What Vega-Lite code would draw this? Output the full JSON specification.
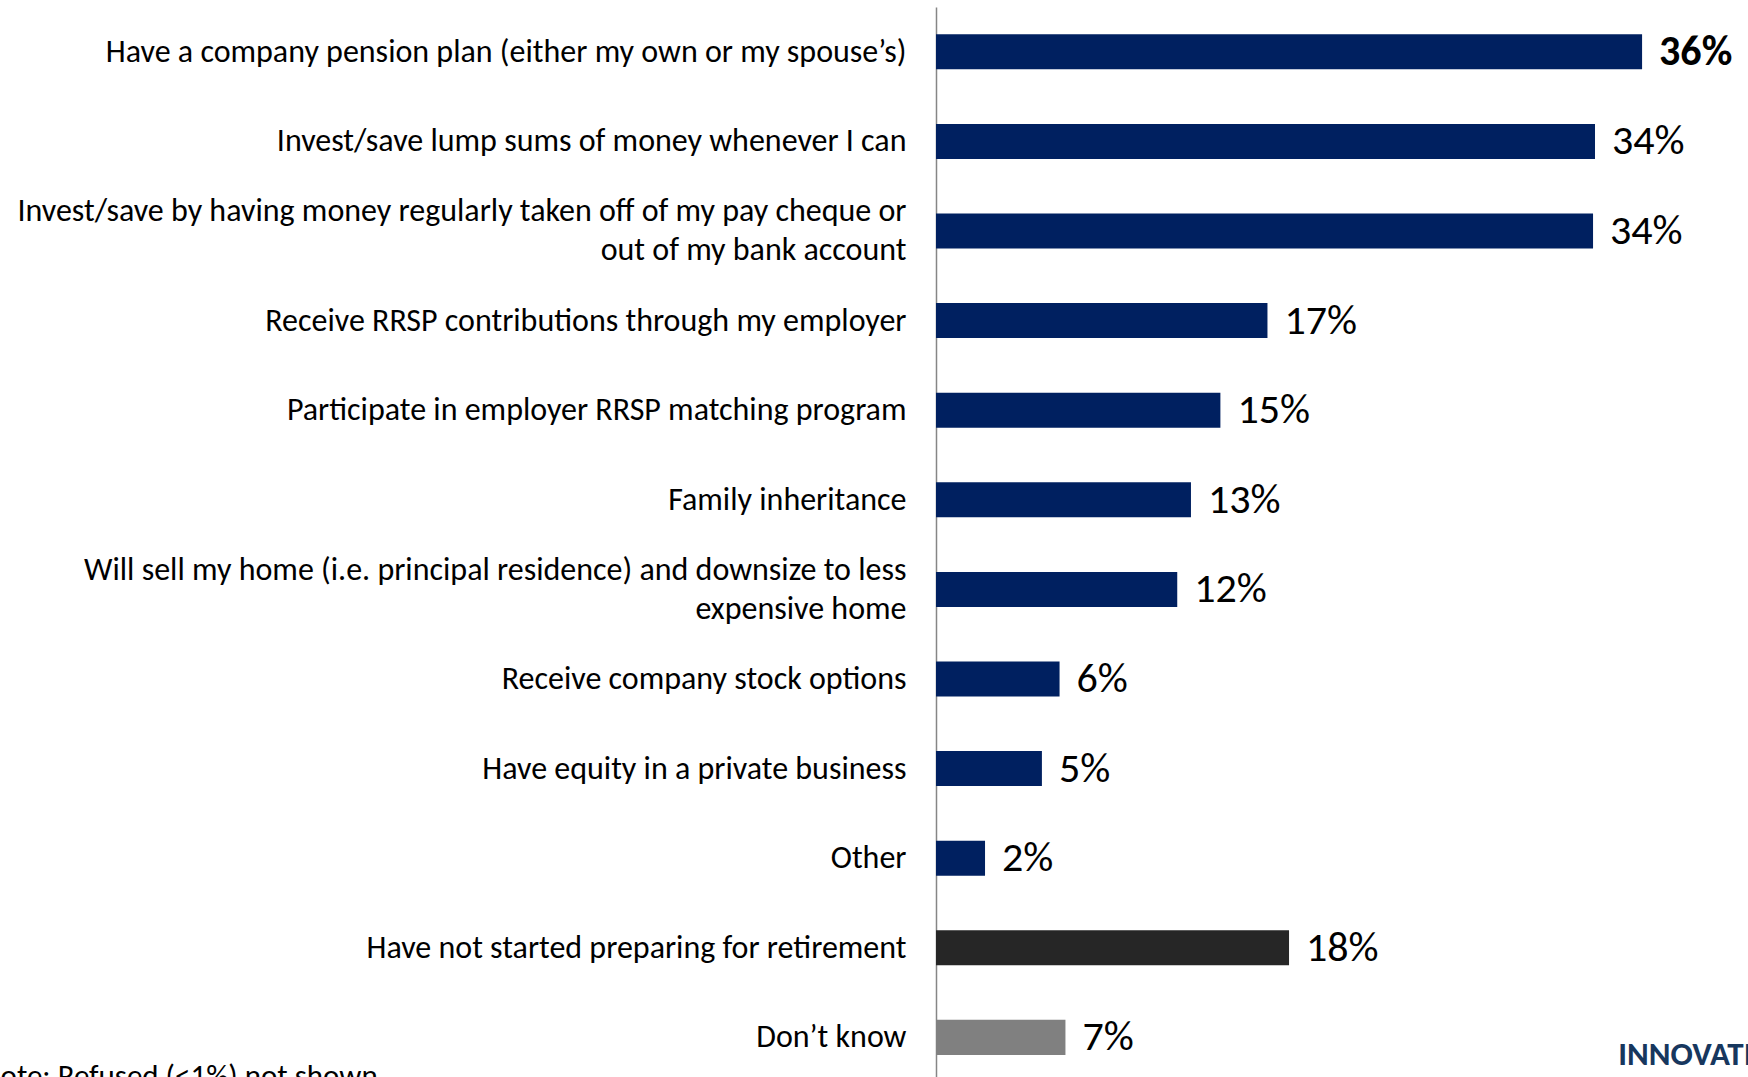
{
  "$schema": "https://vega.github.io/schema/vega-lite/v6.json",
  "autosize": "none",
  "padding": {"left": 936, "top": 7, "right": 0, "bottom": 0},
  "width": 812,
  "height": {"step": 89.6},
  "background": "white",
  "config": {
    "view": {"stroke": null},
    "font": "Carlito, Lato, sans-serif"
  },
  "title": {
    "text": "Note: Refused (<1%) not shown",
    "orient": "bottom",
    "anchor": "start",
    "frame": "bounds",
    "font": "Carlito, Lato, sans-serif",
    "fontSize": 31,
    "fontWeight": "normal",
    "color": "#000000",
    "offset": -20,
    "dx": -36
  },
  "data": {
    "values": [
      {"item": "Have a company pension plan (either my own or my spouse’s)", "pct": 36.0, "label": "36%", "group": "strategy"},
      {"item": "Invest/save lump sums of money whenever I can", "pct": 33.6, "label": "34%", "group": "strategy"},
      {"item": "Invest/save by having money regularly taken off of my pay cheque or|out of my bank account", "pct": 33.5, "label": "34%", "group": "strategy"},
      {"item": "Receive RRSP contributions through my employer", "pct": 16.9, "label": "17%", "group": "strategy"},
      {"item": "Participate in employer RRSP matching program", "pct": 14.5, "label": "15%", "group": "strategy"},
      {"item": "Family inheritance", "pct": 13.0, "label": "13%", "group": "strategy"},
      {"item": "Will sell my home (i.e. principal residence) and downsize to less|expensive home", "pct": 12.3, "label": "12%", "group": "strategy"},
      {"item": "Receive company stock options", "pct": 6.3, "label": "6%", "group": "strategy"},
      {"item": "Have equity in a private business", "pct": 5.4, "label": "5%", "group": "strategy"},
      {"item": "Other", "pct": 2.5, "label": "2%", "group": "strategy"},
      {"item": "Have not started preparing for retirement", "pct": 18.0, "label": "18%", "group": "not started"},
      {"item": "Don’t know", "pct": 6.6, "label": "7%", "group": "don't know"}
    ]
  },
  "encoding": {
    "y": {
      "field": "item",
      "type": "nominal",
      "sort": null,
      "scale": {"paddingInner": 0.609, "paddingOuter": 0.3045},
      "axis": {
        "title": null,
        "ticks": false,
        "tickSize": 0,
        "domain": true,
        "domainColor": "#868686",
        "domainWidth": 1.5,
        "labelPadding": 30,
        "labelFont": "Carlito, Lato, sans-serif",
        "labelFontSize": 32,
        "labelColor": "#000000",
        "labelLimit": 2000,
        "labelLineHeight": 39,
        "labelOffset": {"condition": {"test": "indexof(datum.value, '|') >= 0", "value": -19.5}, "value": 0},
        "labelExpr": "split(datum.label, '|')"
      }
    },
    "x": {
      "field": "pct",
      "type": "quantitative",
      "scale": {"domain": [0, 41.4], "nice": false, "zero": true},
      "axis": null
    }
  },
  "layer": [
    {
      "mark": {"type": "bar"},
      "encoding": {
        "color": {
          "field": "group",
          "type": "nominal",
          "scale": {"domain": ["strategy", "not started", "don't know"], "range": ["#002060", "#262626", "#808080"]},
          "legend": null
        }
      }
    },
    {
      "transform": [{"filter": "datum.label !== '36%'"}],
      "mark": {"type": "text", "align": "left", "baseline": "middle", "dx": 17, "fontSize": 42, "color": "#000000", "font": "Carlito, Lato, sans-serif"},
      "encoding": {"text": {"field": "label"}}
    },
    {
      "transform": [{"filter": "datum.label === '36%'"}],
      "mark": {"type": "text", "align": "left", "baseline": "middle", "dx": 17, "fontSize": 42, "fontWeight": "bold", "color": "#000000", "font": "Carlito, Lato, sans-serif"},
      "encoding": {"text": {"field": "label"}}
    },
    {
      "transform": [{"filter": "datum.group === \"don't know\""}],
      "mark": {"type": "text", "align": "left", "baseline": "alphabetic", "dy": 28, "fontSize": 33, "fontWeight": "bold", "color": "#17375e", "font": "Carlito, Lato, sans-serif"},
      "encoding": {
        "x": {"datum": 34.78, "type": "quantitative"},
        "text": {"value": "INNOVATIVE"}
      }
    }
  ]
}
